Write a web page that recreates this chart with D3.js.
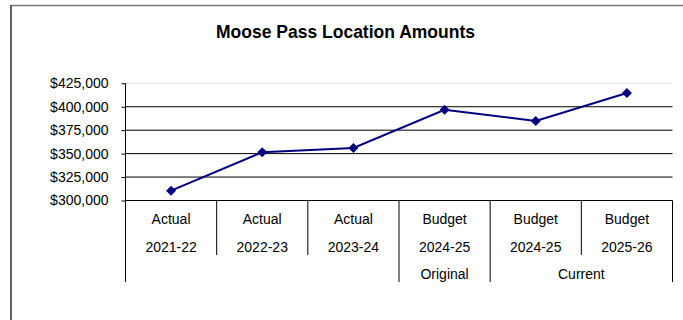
<!DOCTYPE html>
<html>
<head>
<meta charset="utf-8">
<script src="https://cdn.jsdelivr.net/npm/d3@7"></script>
<style>
  html, body { margin: 0; padding: 0; background: #fff; }
  svg { display: block; font-family: "Liberation Sans", Arial, sans-serif; }
</style>
</head>
<body>
<svg id="chart" width="683" height="320"></svg>
<script>
// Moose Pass location amounts by fiscal year
const categories = ["Actual 2021-22", "Actual 2022-23", "Actual 2023-24", "Budget 2024-25 Original", "Budget 2024-25 Current", "Budget 2025-26"];
const rowType = ["Actual", "Actual", "Actual", "Budget", "Budget", "Budget"];
const rowYear = ["2021-22", "2022-23", "2023-24", "2024-25", "2024-25", "2025-26"];
const groups = [
  { label: "", from: 0, to: 3 },
  { label: "Original", from: 3, to: 4 },
  { label: "Current", from: 4, to: 6 }
];
const amounts = [310500, 351400, 356000, 396800, 384800, 414700];
const yTicks = [300000, 325000, 350000, 375000, 400000, 425000];

const svg = d3.select("#chart");

// outer frame
svg.append("line").attr("x1", 11).attr("x2", 683).attr("y1", 5.5).attr("y2", 5.5)
  .attr("stroke", "#7a7a7a").attr("stroke-width", 1.5);
svg.append("line").attr("x1", 11).attr("x2", 11).attr("y1", 5).attr("y2", 320)
  .attr("stroke", "#333").attr("stroke-width", 1.5);

svg.append("text")
  .attr("x", 345.5).attr("y", 38)
  .attr("text-anchor", "middle")
  .attr("font-size", "17.5px").attr("font-weight", "bold")
  .text("Moose Pass Location Amounts");

const left = 125.5, right = 672.5;
const x = d3.scaleBand().domain(categories).range([left, right]).padding(0);
const y = d3.scaleLinear().domain([300000, 425000]).range([200.5, 83.3]);

// horizontal gridlines
svg.append("g").selectAll("line").data(yTicks).join("line")
  .attr("x1", left).attr("x2", right)
  .attr("y1", d => y(d)).attr("y2", d => y(d))
  .attr("stroke", d => d === 425000 ? "#ddd" : "#000")
  .attr("stroke-width", 1);

// y axis
const yAxis = d3.axisLeft(y).tickValues(yTicks).tickSize(4).tickPadding(13)
  .tickFormat(d => "$" + d3.format(",")(d));
const ga = svg.append("g").attr("transform", `translate(${left},0)`).call(yAxis);
ga.select(".domain").remove();
ga.selectAll(".tick line").attr("stroke", "#000");
ga.selectAll(".tick text").attr("font-size", "14px").attr("fill", "#000")
  .attr("font-family", "'Liberation Sans', Arial, sans-serif");

// vertical axis line down through the label table
svg.append("line").attr("x1", left).attr("x2", left).attr("y1", 83.3).attr("y2", 282)
  .attr("stroke", "#000");

// category separators: full depth at group edges, two rows otherwise
const edges = d3.range(1, categories.length + 1);
const groupEdges = new Set(groups.map(g => g.to));
svg.append("g").selectAll("line").data(edges).join("line")
  .attr("x1", i => i === categories.length ? right : x(categories[i]))
  .attr("x2", i => i === categories.length ? right : x(categories[i]))
  .attr("y1", 200.5)
  .attr("y2", i => groupEdges.has(i) ? 282 : 255)
  .attr("stroke", "#000");

// category labels
const lab = svg.append("g").attr("font-size", "14px").attr("text-anchor", "middle");
lab.selectAll("text.r1").data(categories).join("text").attr("class", "r1")
  .attr("x", d => x(d) + x.bandwidth() / 2).attr("y", 224)
  .text((d, i) => rowType[i]);
lab.selectAll("text.r2").data(categories).join("text").attr("class", "r2")
  .attr("x", d => x(d) + x.bandwidth() / 2).attr("y", 251.5)
  .text((d, i) => rowYear[i]);
lab.selectAll("text.r3").data(groups).join("text").attr("class", "r3")
  .attr("x", g => (x(categories[g.from]) + x(categories[g.to - 1]) + x.bandwidth()) / 2)
  .attr("y", 278.5)
  .text(g => g.label);

// series line and diamond markers
const pts = amounts.map((v, i) => [x(categories[i]) + x.bandwidth() / 2, y(v)]);
svg.append("path").datum(pts)
  .attr("d", d3.line())
  .attr("fill", "none").attr("stroke", "#000080").attr("stroke-width", 2);
svg.append("g").selectAll("path").data(pts).join("path")
  .attr("transform", d => `translate(${d[0]},${d[1]})`)
  .attr("d", "M0,-5L5,0L0,5L-5,0Z")
  .attr("fill", "#000080");
</script>
</body>
</html>
